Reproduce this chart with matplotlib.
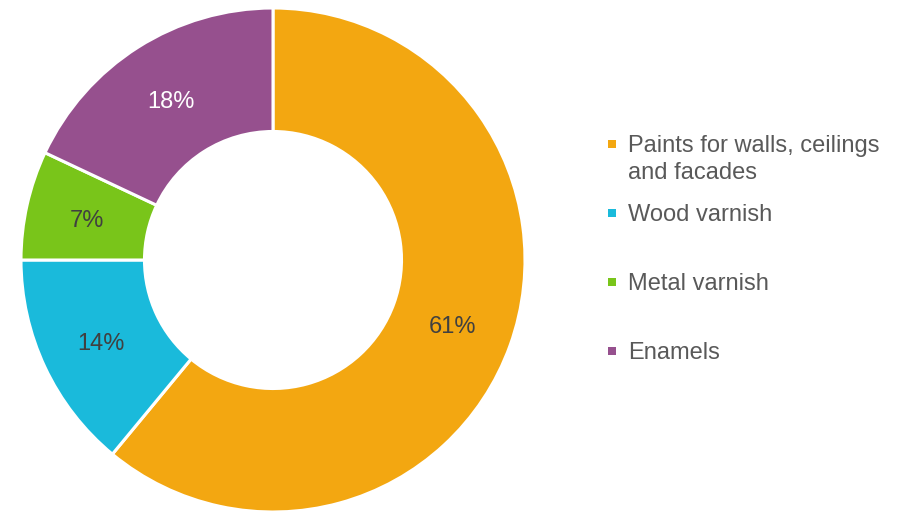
import matplotlib.pyplot as plt
from matplotlib.patches import Rectangle

plt.rcParams['font.family'] = ['Liberation Sans', 'DejaVu Sans']

# Market shares by product group
labels = ["Paints for walls, ceilings\nand facades", "Wood varnish", "Metal varnish", "Enamels"]
shares = [61, 14, 7, 18]
colors = ["#F3A711", "#1ABADB", "#79C51A", "#96508E"]
pct_colors = ["#404040", "#404040", "#404040", "#FFFFFF"]

fig = plt.figure(figsize=(8.99, 5.12), dpi=100)

# donut, centred at (273, 260) px with a 252 px radius
ax = fig.add_axes([21 / 899, 0, 504 / 899, 504 / 512])
wedges, texts, autotexts = ax.pie(
    shares, colors=colors, startangle=90, counterclock=False,
    radius=1.0, pctdistance=0.755,
    autopct=lambda p: "%d%%" % round(p),
    wedgeprops=dict(width=0.49, edgecolor="white", linewidth=2.2),
    textprops=dict(fontsize=17))
for t, c in zip(autotexts, pct_colors):
    t.set_color(c)
    t.set_va('center_baseline')
ax.set_xlim(-1, 1)
ax.set_ylim(-1, 1)
ax.set_aspect('equal')
ax.axis('off')

# legend drawn by hand so the entries sit where they should
legend_y = [144, 213, 282, 351]
for lab, col, y in zip(labels, colors, legend_y):
    fig.patches.append(Rectangle(((608) / 899, (512 - y - 4) / 512), 8 / 899, 8 / 512,
                                 facecolor=col, edgecolor='none',
                                 transform=fig.transFigure, figure=fig))
    fig.text(628 / 899, (512 - y + 9) / 512, lab, fontsize=17, color="#595959",
             va='top', ha='left', linespacing=1.32)

fig.savefig("out.png", dpi=100)
